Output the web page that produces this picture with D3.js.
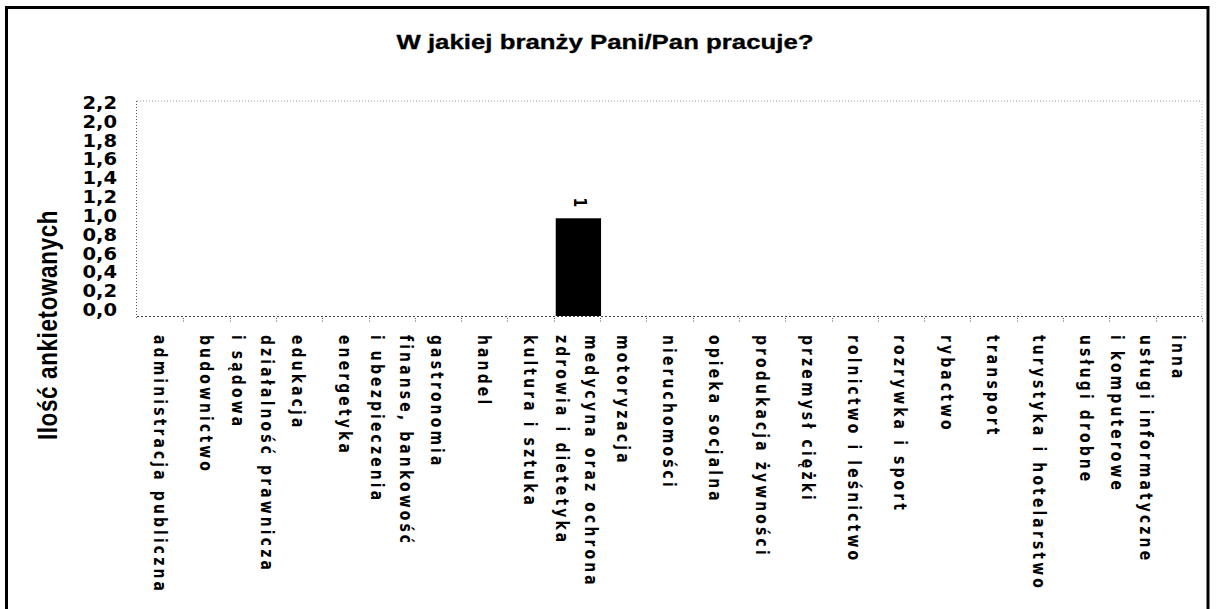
<!DOCTYPE html>
<html>
<head>
<meta charset="utf-8">
<script src="https://cdn.jsdelivr.net/npm/d3@7"></script>
<style>
  html, body { margin: 0; padding: 0; background: #fff; }
  svg { display: block; }
</style>
</head>
<body>
<svg id="chart" width="1216" height="609"></svg>
<script>
// Industry categories (line breaks mark two-line labels)
const categories = [
  "administracja publiczna",
  "budownictwo",
  "działalność prawnicza\ni sądowa",
  "edukacja",
  "energetyka",
  "finanse, bankowość\ni ubezpieczenia",
  "gastronomia",
  "handel",
  "kultura i sztuka",
  "medycyna oraz ochrona\nzdrowia i dietetyka",
  "motoryzacja",
  "nieruchomości",
  "opieka socjalna",
  "produkacja żywności",
  "przemysł ciężki",
  "rolnictwo i leśnictwo",
  "rozrywka i sport",
  "rybactwo",
  "transport",
  "turystyka i hotelarstwo",
  "usługi drobne",
  "usługi informatyczne\ni komputerowe",
  "inna"
];

// Number of respondents per category
const values = [0, 0, 0, 0, 0, 0, 0, 0, 0, 1, 0, 0, 0, 0, 0, 0, 0, 0, 0, 0, 0, 0, 0];

// Value axis ticks
const yTickValues = [0, 0.2, 0.4, 0.6, 0.8, 1.0, 1.2, 1.4, 1.6, 1.8, 2.0, 2.2];

const titleText = "W jakiej branży Pani/Pan pracuje?";
const yAxisTitle = "Ilość ankietowanych";

const plLocale = d3.formatLocale({ decimal: ",", thousands: " ", grouping: [3], currency: ["", " zł"] });
const fmtTick = plLocale.format(".1f");
const fmtValue = plLocale.format("d");

const SX = 1.23; // horizontal text stretch
const svg = d3.select("#chart");

svg.append("rect").attr("width", 1216).attr("height", 609).attr("fill", "#fff");

// outer frame
svg.append("rect")
  .attr("x", 6.5).attr("y", 7.5).attr("width", 1201.5).attr("height", 640)
  .attr("fill", "none").attr("stroke", "#000").attr("stroke-width", 3);

const x = d3.scaleBand().domain(categories).range([137, 1202]).padding(0);
const y = d3.scaleLinear().domain([0, 2.2]).range([316, 101]);
const yLabelPos = d3.scaleLinear().domain([0, 2.2]).range([310, 103]);

// plot area outline (dotted)
const dot = "1,2";
svg.append("line").attr("x1", 137).attr("x2", 1202).attr("y1", y(2.2)).attr("y2", y(2.2))
  .attr("stroke", "#999").attr("stroke-dasharray", dot);
svg.append("line").attr("x1", 1202).attr("x2", 1202).attr("y1", y(2.2)).attr("y2", y(0))
  .attr("stroke", "#bbb").attr("stroke-dasharray", dot);
svg.append("line").attr("x1", 136.5).attr("x2", 136.5).attr("y1", y(2.2)).attr("y2", y(0) + 2)
  .attr("stroke", "#555").attr("stroke-dasharray", dot);
svg.append("line").attr("x1", 137).attr("x2", 1202).attr("y1", y(0) + 0.5).attr("y2", y(0) + 0.5)
  .attr("stroke", "#444").attr("stroke-dasharray", "2,2");

// category tick marks at band boundaries
const bounds = categories.map(c => x(c)).concat([x.range()[1]]);
svg.append("g").selectAll("line").data(bounds.slice(1)).join("line")
  .attr("x1", d => Math.round(d) + 0.5).attr("x2", d => Math.round(d) + 0.5)
  .attr("y1", y(0) + 2).attr("y2", y(0) + 7)
  .attr("stroke", "#555").attr("stroke-dasharray", "1,1.5");

// bars
svg.append("g").selectAll("rect").data(categories).join("rect")
  .attr("x", (c) => x(c) + 2)
  .attr("width", x.bandwidth() - 1)
  .attr("y", (c, i) => y(values[i]))
  .attr("height", (c, i) => y(0) - y(values[i]))
  .attr("fill", "#000");

// value labels above non-empty bars
svg.append("g").selectAll("text").data(categories.filter((c, i) => values[i] > 0)).join("text")
  .attr("transform", c => {
    const v = values[categories.indexOf(c)];
    return `translate(${x(c) + x.bandwidth() / 2 + 3},${y(v) - 11}) scale(${SX},1) rotate(90)`;
  })
  .attr("text-anchor", "end")
  .attr("dominant-baseline", "central")
  .attr("font-family", "DejaVu Sans")
  .attr("font-weight", "bold")
  .attr("font-size", 14)
  .text(c => fmtValue(values[categories.indexOf(c)]));

// y tick labels
svg.append("g").selectAll("text").data(yTickValues).join("text")
  .attr("transform", d => `translate(117,${yLabelPos(d)}) scale(1.15,1)`)
  .attr("text-anchor", "end")
  .attr("dominant-baseline", "central")
  .attr("font-family", "DejaVu Sans")
  .attr("font-weight", "bold")
  .attr("font-size", 17)
  .text(d => fmtTick(d));

// category labels, rotated to read downward
const labels = svg.append("g").selectAll("text").data(categories).join("text")
  .attr("transform", c => `translate(${x(c) + x.bandwidth() / 2},335) scale(${SX},1) rotate(90)`)
  .attr("font-family", "DejaVu Sans")
  .attr("font-weight", "bold")
  .attr("font-size", 14)
  .attr("letter-spacing", 3.1)
  .attr("dominant-baseline", "central");
labels.each(function (c) {
  const lines = c.split("\n");
  const t = d3.select(this);
  lines.forEach((ln, k) => {
    const off = lines.length === 1 ? 0 : (k === 0 ? -11.8 : 11.8);
    t.append("tspan").attr("x", 0).attr("y", off).attr("dominant-baseline", "central").text(ln);
  });
});

// y axis title
svg.append("text")
  .attr("transform", `translate(47,325) scale(${SX},1) rotate(-90)`)
  .attr("text-anchor", "middle")
  .attr("dominant-baseline", "central")
  .attr("font-family", "Liberation Sans")
  .attr("font-weight", "bold")
  .attr("font-size", 22.5)
  .attr("letter-spacing", 0.6)
  .text(yAxisTitle);

// chart title
svg.append("text")
  .attr("transform", `translate(605,42) scale(1.29,1)`)
  .attr("text-anchor", "middle")
  .attr("dominant-baseline", "central")
  .attr("font-family", "Liberation Sans")
  .attr("font-weight", "bold")
  .attr("font-size", 20)
  .attr("stroke", "#000")
  .attr("stroke-width", 0.3)
  .text(titleText);
</script>
</body>
</html>
